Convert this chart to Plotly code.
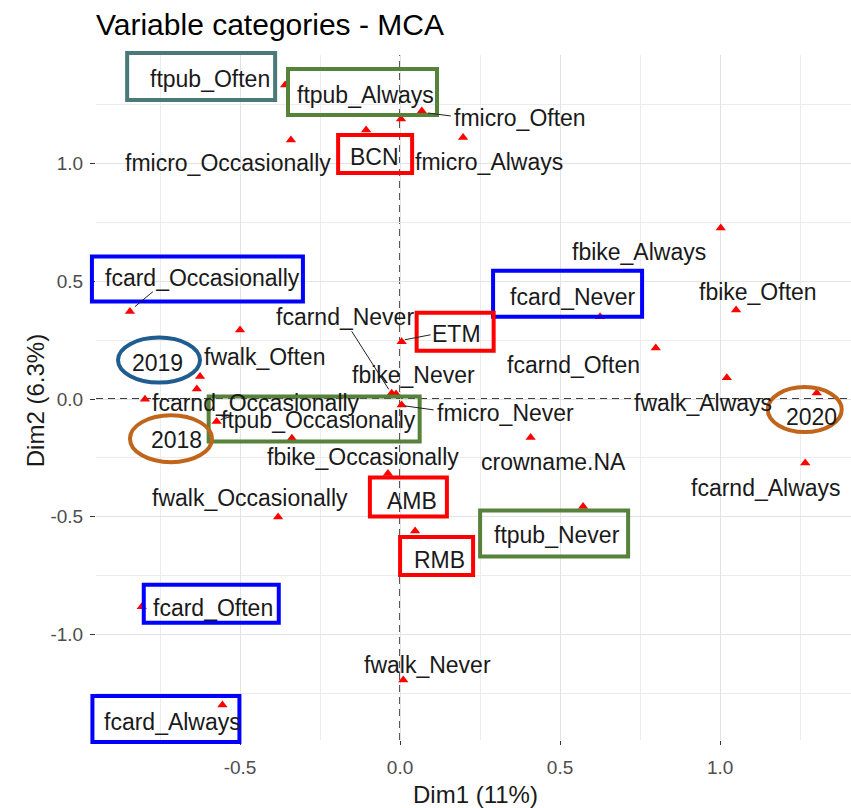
import plotly.graph_objects as go

# ---------------- data (MCA coordinates of variable categories) ----------------
categories = [
    "ftpub_Often", "ftpub_Always", "fmicro_Often", "BCN", "fmicro_Occasionally",
    "fmicro_Always", "fbike_Always", "fbike_Often", "fcard_Never", "fcarnd_Often",
    "fwalk_Always", "2020", "crowname.NA", "ftpub_Never", "RMB", "AMB",
    "fmicro_Never", "fcarnd_Never", "fbike_Never", "ETM", "fcard_Occasionally",
    "fwalk_Often", "2019", "fcarnd_Occasionally", "2018", "ftpub_Occasionally",
    "fbike_Occasionally", "fwalk_Occasionally", "fcard_Often", "fcard_Always",
    "fwalk_Never", "fcarnd_Always",
]
dim1 = [
    -0.359, 0.003, 0.068, -0.106, -0.341,
    0.197, 1.002, 1.050, 0.625, 0.799,
    1.021, 1.302, 0.408, 0.572, 0.047, -0.038,
    0.005, -0.026, -0.0125, 0.005, -0.844,
    -0.500, -0.625, -0.635, -0.797, -0.573,
    -0.338, -0.381, -0.807, -0.555,
    0.010, 1.266,
]
dim2 = [
    1.333, 1.189, 1.223, 1.142, 1.100,
    1.110, 0.726, 0.378, 0.349, 0.217,
    0.090, 0.025, -0.163, -0.457, -0.561, -0.316,
    -0.025, 0.024, 0.021, 0.243, 0.371,
    0.293, 0.095, 0.042, -0.001, -0.096,
    -0.167, -0.501, -0.882, -1.299,
    -1.193, -0.272,
]
x_ticks = [-0.5, 0.0, 0.5, 1.0]
y_ticks = [-1.0, -0.5, 0.0, 0.5, 1.0]

# ---------------- layout helpers (label placement, in pixels) ----------------
XR = [-0.95, 1.409]
YR = [-1.448, 1.4607]

label_offset = {  # (dx right, dy up) of label centre from its point, px
    "ftpub_Often": (-75, 6), "ftpub_Always": (-36, 24), "fmicro_Often": (98, -7),
    "BCN": (8, -27), "fmicro_Occasionally": (-63, -23), "fmicro_Always": (26, -24),
    "fbike_Always": (-82, -24), "fbike_Often": (22, 18), "fcard_Never": (-27, 20),
    "fcarnd_Often": (-82, -17), "fwalk_Always": (-24, -25), "2020": (-5, -24),
    "crowname.NA": (23, -25), "ftpub_Never": (-26, -28), "RMB": (24, -29),
    "AMB": (24, -28), "fmicro_Never": (104, -8), "fcarnd_Never": (-47, 76),
    "fbike_Never": (17, 19), "ETM": (55, 8), "fcard_Occasionally": (73, 34),
    "fwalk_Often": (24, -27), "2019": (-43, 14), "fcarnd_Occasionally": (59, -14),
    "2018": (32, -41), "ftpub_Occasionally": (102, 2), "fbike_Occasionally": (71, -19),
    "fwalk_Occasionally": (-28, 19), "fcard_Often": (71, -1), "fcard_Always": (-50, -17),
    "fwalk_Never": (24, 15), "fcarnd_Always": (-39, -25),
}

TEAL, GREEN, RED, BLUE = "#497a78", "#56823a", "#ff0000", "#0000ff"
EBLUE, ORANGE = "#1f5c8f", "#c0651c"

# highlight frames relative to the label centre: (colour, left, right, top, bottom) screen px
boxes = {
    "ftpub_Often": (TEAL, -83, 65, -26, 21),
    "ftpub_Always": (GREEN, -77, 72, -26, 20),
    "BCN": (RED, -36, 38, -22, 16),
    "fcard_Occasionally": (BLUE, -111, 100, -21, 24),
    "fcard_Never": (BLUE, -80, 69, -26, 20),
    "ETM": (RED, -40, 37, -21, 17),
    "ftpub_Occasionally": (GREEN, -110, 101, -23, 22),
    "AMB": (RED, -42, 35, -24, 15),
    "ftpub_Never": (GREEN, -77, 71, -24, 22),
    "RMB": (RED, -39, 34, -23, 15),
    "fcard_Often": (BLUE, -69, 66, -23, 15),
    "fcard_Always": (BLUE, -80, 67, -26, 20),
}
ellipses = {
    "2019": (EBLUE, -39, 43, -25, 20),
    "2018": (ORANGE, -47, 35, -25, 22),
    "2020": (ORANGE, -44, 30, -30, 15),
}
# repel segments relative to the point: (x0, y0, x1, y1) px, y up
segments = {
    "fmicro_Often": (6, -2, 29, -5),
    "fcard_Occasionally": (5, 5, 23, 20),
    "fcarnd_Never": (-3, 4, -40, 62),
    "ETM": (3, 2, 29, 7),
    "fmicro_Never": (3, -1, 32, -5),
    "ftpub_Occasionally": (4, 2, 14, 5),
}

def fx(v):
    return (v - XR[0]) / (XR[1] - XR[0])

def fy(v):
    return (v - YR[0]) / (YR[1] - YR[0])

FONT = "Liberation Sans, Arial, sans-serif"

fig = go.Figure()
fig.add_trace(go.Scatter(
    x=dim1, y=dim2, mode="markers", text=categories,
    marker=dict(symbol="triangle-up", size=9, color="#ff0000"),
    hoverinfo="text", showlegend=False,
))

annotations = []
shapes = []
pos = {c: (a, b) for c, a, b in zip(categories, dim1, dim2)}

for c in categories:
    dx, dy = label_offset[c]
    a, b = pos[c]
    annotations.append(dict(
        x=a, y=b, xref="x", yref="y", text=c, showarrow=False,
        xshift=dx, yshift=dy, xanchor="center", yanchor="middle",
        font=dict(family=FONT, size=23, color="#1a1a1a"),
    ))

for c, (col, L, R, T, B) in boxes.items():
    dx, dy = label_offset[c]
    a, b = pos[c]
    shapes.append(dict(
        type="rect", xref="paper", yref="paper", xsizemode="pixel", ysizemode="pixel",
        xanchor=fx(a), yanchor=fy(b), x0=dx + L, x1=dx + R, y0=dy - B, y1=dy - T,
        line=dict(color=col, width=4), fillcolor="rgba(0,0,0,0)", layer="above",
    ))

for c, (col, L, R, T, B) in ellipses.items():
    dx, dy = label_offset[c]
    a, b = pos[c]
    shapes.append(dict(
        type="circle", xref="paper", yref="paper", xsizemode="pixel", ysizemode="pixel",
        xanchor=fx(a), yanchor=fy(b), x0=dx + L, x1=dx + R, y0=dy - B, y1=dy - T,
        line=dict(color=col, width=4), fillcolor="rgba(0,0,0,0)", layer="above",
    ))

for c, (x0, y0, x1, y1) in segments.items():
    a, b = pos[c]
    shapes.append(dict(
        type="line", xref="paper", yref="paper", xsizemode="pixel", ysizemode="pixel",
        xanchor=fx(a), yanchor=fy(b), x0=x0, x1=x1, y0=y0, y1=y1,
        line=dict(color="#222222", width=1), layer="above",
    ))

# reference lines at the origin
shapes.append(dict(type="line", xref="x", yref="paper", x0=0, x1=0, y0=0, y1=1,
                   line=dict(color="black", width=1.4, dash="7px,5px"), layer="below"))
shapes.append(dict(type="line", xref="paper", yref="y", x0=0, x1=1, y0=0, y1=0,
                   line=dict(color="black", width=1.4, dash="7px,5px"), layer="below"))

# titles
annotations.append(dict(text="Variable categories - MCA", xref="paper", yref="paper",
                        x=-0.002, y=1.0438, xanchor="left", yanchor="middle", showarrow=False,
                        font=dict(family=FONT, size=30, color="black")))
annotations.append(dict(text="Dim1 (11%)", xref="paper", yref="paper",
                        x=0.502, y=-0.080, xanchor="center", yanchor="middle", showarrow=False,
                        font=dict(family=FONT, size=24, color="#1a1a1a")))
annotations.append(dict(text="Dim2 (6.3%)", xref="paper", yref="paper",
                        x=-0.0808, y=0.496, xanchor="center", yanchor="middle", showarrow=False,
                        textangle=-90, font=dict(family=FONT, size=24, color="#1a1a1a")))

grid_major = "#e3e3e3"
grid_minor = "#ececec"

fig.update_layout(
    width=851, height=808,
    margin=dict(l=96, r=0, t=55, b=68),
    paper_bgcolor="white", plot_bgcolor="white",
    shapes=shapes, annotations=annotations,
    font=dict(family=FONT),
    xaxis=dict(
        range=XR, tickvals=x_ticks, ticktext=[f"{v:.1f}" for v in x_ticks],
        showgrid=True, gridcolor=grid_major, gridwidth=1.3, zeroline=False,
        minor=dict(dtick=0.25, tick0=0, showgrid=True, gridcolor=grid_minor, gridwidth=1),
        ticks="outside", ticklen=4, tickcolor="#333333", tickwidth=1,
        tickfont=dict(family=FONT, size=19, color="#4d4d4d"), ticklabelstandoff=6,
        showline=False,
    ),
    yaxis=dict(
        range=YR, tickvals=y_ticks, ticktext=[f"{v:.1f}" for v in y_ticks],
        showgrid=True, gridcolor=grid_major, gridwidth=1.3, zeroline=False,
        minor=dict(dtick=0.25, tick0=0, showgrid=True, gridcolor=grid_minor, gridwidth=1),
        ticks="outside", ticklen=5, tickcolor="#333333", tickwidth=1,
        tickfont=dict(family=FONT, size=19, color="#4d4d4d"), ticklabelstandoff=3,
        showline=False,
    ),
)

fig.write_html(
    "out.html",
    config={"displayModeBar": False},
    post_script="document.body.style.margin='0';document.body.style.overflow='hidden';",
)
